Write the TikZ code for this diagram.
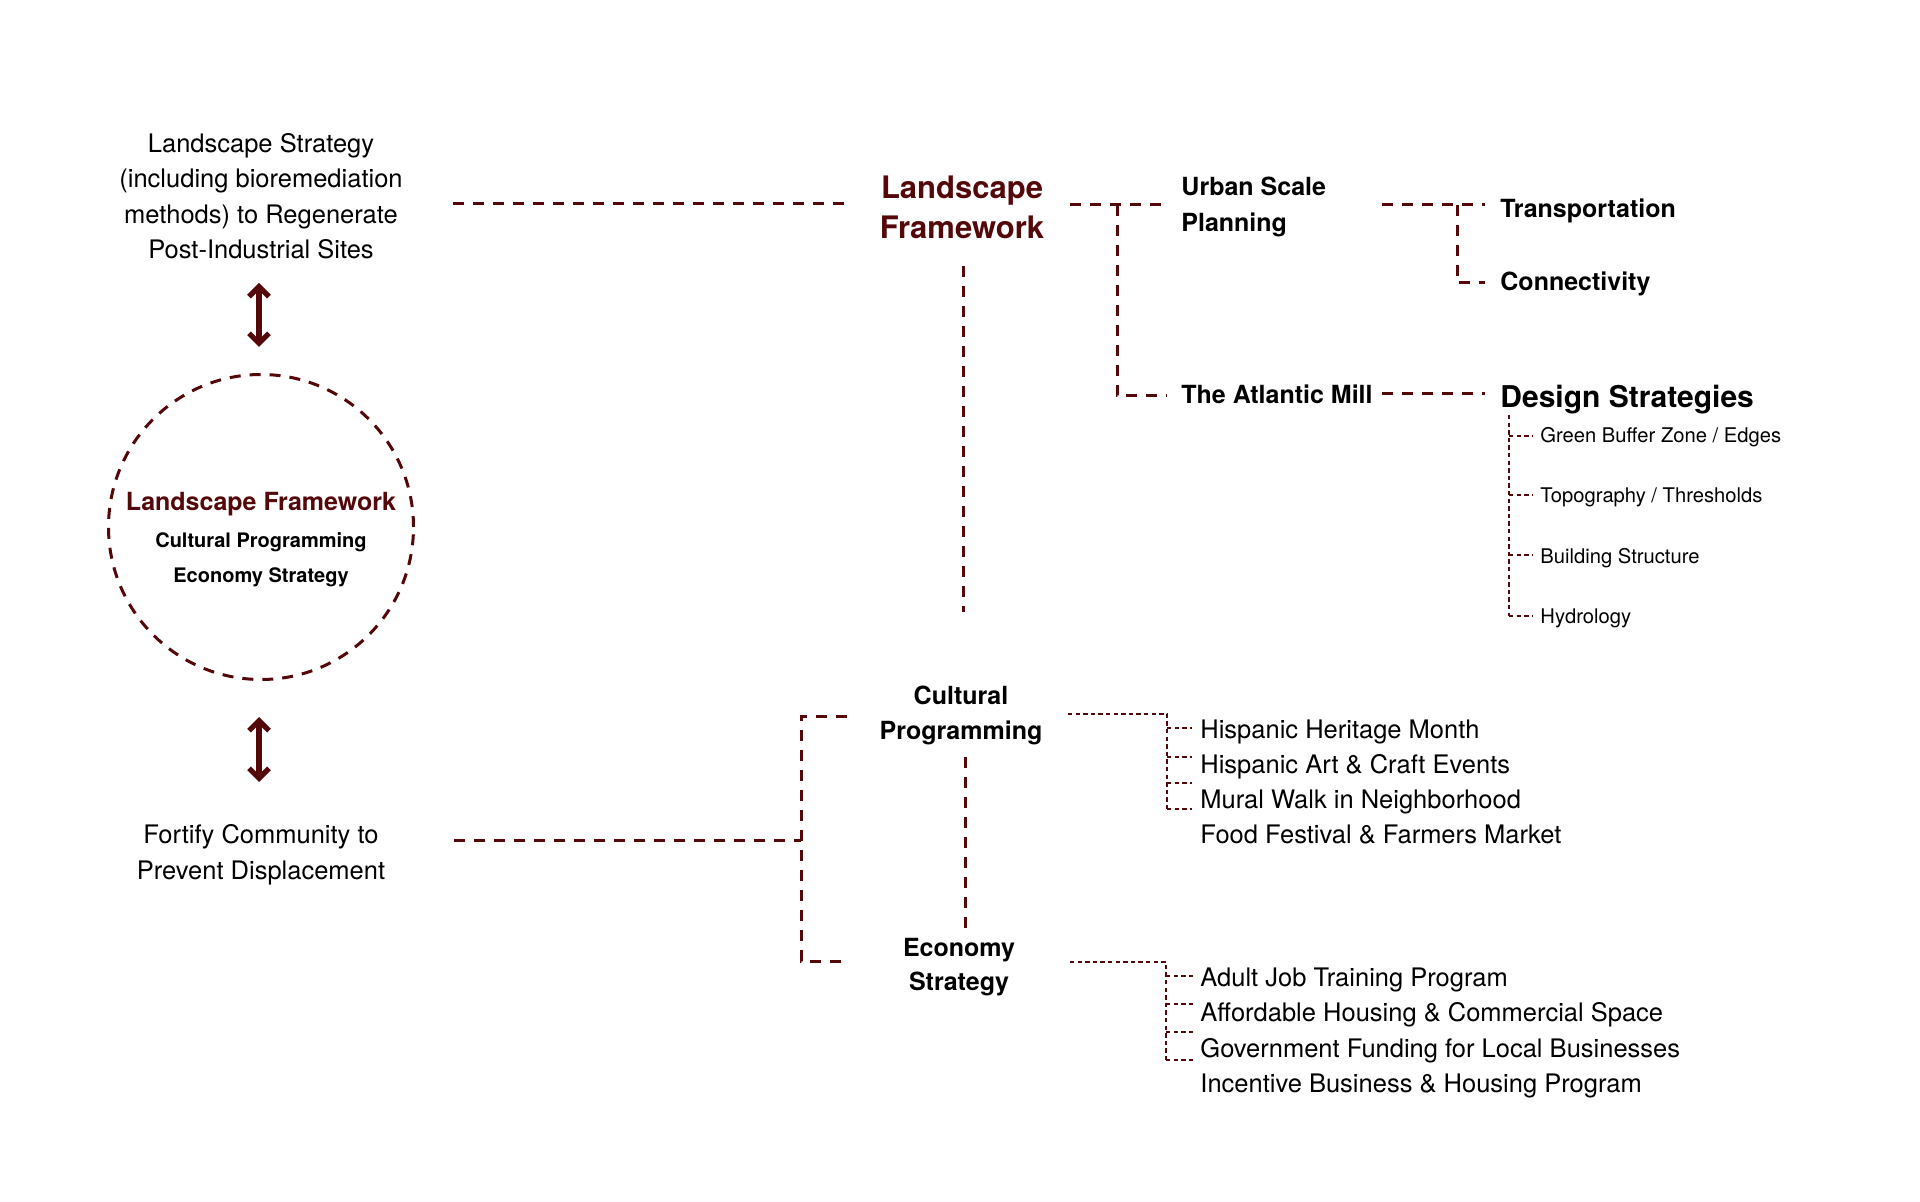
\documentclass[tikz,border=0pt]{standalone}
\usepackage{fontspec}
\setmainfont{TeX Gyre Heros}
\usetikzlibrary{arrows.meta}
\definecolor{mred}{RGB}{85,8,10}
\begin{document}
\begin{tikzpicture}[x=0.5pt,y=-0.5pt,
  main/.style={draw=mred, line width=1.5pt, dash pattern=on 5.5pt off 4.5pt},
  thin/.style={draw=mred, line width=0.75pt, dash pattern=on 2.2pt off 1.6pt},
  dbl/.style={draw=mred, line width=2.6pt, {Straight Barb[length=5pt,width=10pt]}-{Straight Barb[length=5pt,width=10pt]}},
  reg/.style={inner sep=0pt, font=\fontsize{12.75pt}{17.75pt}\selectfont},
  bld/.style={inner sep=0pt, font=\fontsize{12.5pt}{17.75pt}\selectfont\bfseries},
  one/.style={text height=9pt, text depth=0pt},
  small/.style={inner sep=0pt, anchor=west, font=\fontsize{10.1pt}{12pt}\selectfont, text height=7.2pt, text depth=0pt},
  item/.style={reg, one, anchor=west},
]
\path[use as bounding box] (0,0) rectangle (1920,1202);

% left column
\node[reg, align=center] (lsTxt) at (261,196) {Landscape Strategy\\(including bioremediation\\methods) to Regenerate\\Post-Industrial Sites};
\node[reg, align=center] (fcTxt) at (261,855) {Fortify Community to\\Prevent Displacement};
\node[circle, main, minimum size=152.5pt, inner sep=0pt] (circ) at (261,527) {};
\node[bld, one, text=mred] (cLF) at (261,502) {Landscape Framework};
\node[inner sep=0pt, font=\fontsize{10pt}{12pt}\selectfont\bfseries, text height=7.2pt, text depth=0pt] (cCP) at (261,540) {Cultural Programming};
\node[inner sep=0pt, font=\fontsize{10pt}{12pt}\selectfont\bfseries, text height=7.2pt, text depth=0pt] (cES) at (261,575) {Economy Strategy};

\coordinate (a1t) at (259,283);
\coordinate (a1b) at (259,347);
\coordinate (a2t) at (259,717);
\coordinate (a2b) at (259,782);
\draw[dbl] (a1t) -- (a1b);
\draw[dbl] (a2t) -- (a2b);

% main framework
\node[inner sep=0pt, align=center, text=mred, font=\fontsize{15.5pt}{20pt}\selectfont\bfseries] (lf) at (962,207) {Landscape\\Framework};
\node[bld, align=left, anchor=west, font=\fontsize{12.5pt}{17.75pt}\selectfont\bfseries] (usp) at (1181,207) {Urban Scale\\Planning};
\node[bld, one, anchor=west] (tam) at (1181,395) {The Atlantic Mill};
\node[bld, one, anchor=west] (tr) at (1500,209) {Transportation};
\node[bld, one, anchor=west] (co) at (1500,282) {Connectivity};
\node[inner sep=0pt, anchor=west, font=\fontsize{15pt}{18pt}\selectfont\bfseries, text height=10.8pt, text depth=0pt] (ds) at (1500,397) {Design Strategies};
\node[small] (d1) at (1540,435) {Green Buffer Zone / Edges};
\node[small] (d2) at (1540,495) {Topography / Thresholds};
\node[small] (d3) at (1540,556) {Building Structure};
\node[small] (d4) at (1540,616) {Hydrology};

\node[bld, align=center, font=\fontsize{12.5pt}{17.5pt}\selectfont\bfseries] (cp) at (961,715.5) {Cultural\\Programming};
\node[bld, align=center, font=\fontsize{12.5pt}{17pt}\selectfont\bfseries] (es) at (959,967.5) {Economy\\Strategy};

\node[item] (h1) at (1200,729) {Hispanic Heritage Month};
\node[item] (h2) at (1200,764) {Hispanic Art \& Craft Events};
\node[item] (h3) at (1200,799) {Mural Walk in Neighborhood};
\node[item] (h4) at (1200,834.5) {Food Festival \& Farmers Market};

\node[item] (e1) at (1200,977) {Adult Job Training Program};
\node[item] (e2) at (1200,1012) {Affordable Housing \& Commercial Space};
\node[item] (e3) at (1200,1048) {Government Funding for Local Businesses};
\node[item] (e4) at (1200,1083) {Incentive Business \& Housing Program};

% connector coordinates
\coordinate (ls1) at (453,204);
\coordinate (ls2) at (850,204);
\coordinate (lfv1) at (963,266);
\coordinate (lfv2) at (963,612);
\coordinate (u1) at (1070,205);
\coordinate (u2) at (1167,205);
\coordinate (u3) at (1117,205);
\coordinate (u4) at (1117,396);
\coordinate (u5) at (1167,396);
\coordinate (t1) at (1382,205);
\coordinate (t2) at (1485,205);
\coordinate (t3) at (1457,205);
\coordinate (t4) at (1457,283);
\coordinate (t5) at (1485,283);
\coordinate (m1) at (1382,394);
\coordinate (m2) at (1485,394);
\coordinate (dv1) at (1509,415);
\coordinate (dv2) at (1509,616);
\coordinate (f1) at (454,840);
\coordinate (f2) at (801,840);
\coordinate (br1) at (847,716);
\coordinate (br2) at (801,716);
\coordinate (br3) at (801,961);
\coordinate (br4) at (848,961);
\coordinate (ce1) at (965,757);
\coordinate (ce2) at (965,930);
\coordinate (cr1) at (1068,714);
\coordinate (cr2) at (1167,714);
\coordinate (cr3) at (1167,809);
\coordinate (er1) at (1070,962);
\coordinate (er2) at (1166,962);
\coordinate (er3) at (1166,1060);

\draw[main] (ls1) -- (ls2);
\draw[main] (lfv1) -- (lfv2);
\draw[main] (u1) -- (u2);
\draw[main] (u3) -- (u4) -- (u5);
\draw[main] (t1) -- (t2);
\draw[main] (t3) -- (t4) -- (t5);
\draw[main] (m1) -- (m2);
\draw[main] (f1) -- (f2);
\draw[main] (br1) -- (br2) -- (br3) -- (br4);
\draw[main] (ce1) -- (ce2);

\draw[thin] (dv1) -- (dv2);
\foreach \yy in {436,495,555,616} \draw[thin] (1509,\yy) -- (1533,\yy);

\draw[thin] (cr1) -- (cr2) -- (cr3);
\foreach \yy in {728,757,783,809} \draw[thin] (1167,\yy) -- (1192,\yy);

\draw[thin] (er1) -- (er2) -- (er3);
\foreach \yy in {976,1004,1032,1060} \draw[thin] (1166,\yy) -- (1193,\yy);
\end{tikzpicture}
\end{document}
